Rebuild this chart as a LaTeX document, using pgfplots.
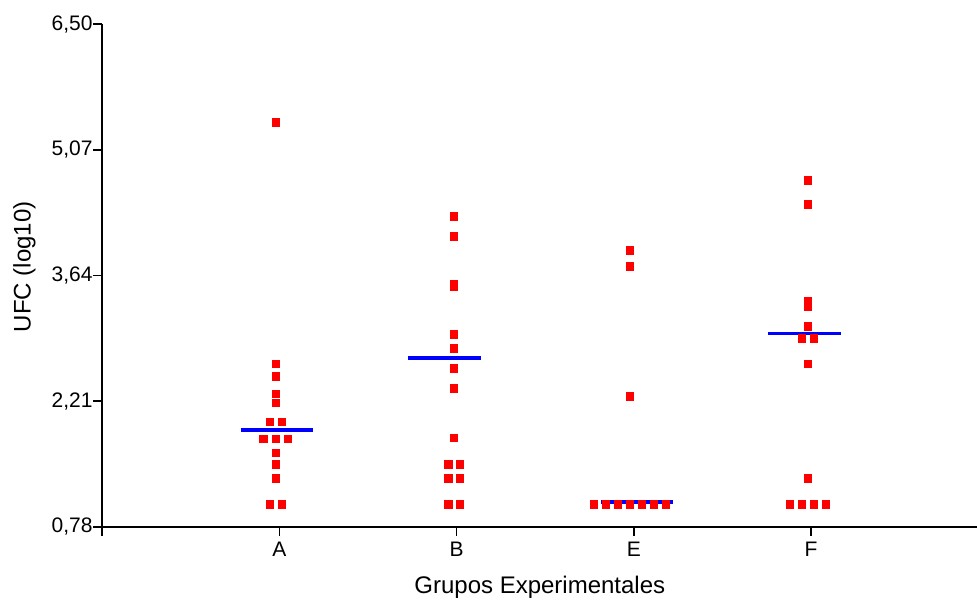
\documentclass[border=0pt]{standalone}
\usepackage{fontspec}
\setmainfont{Liberation Sans}
\usepackage{pgfplots}
\pgfplotsset{compat=1.18}
\begin{document}
\begin{tikzpicture}
\begin{axis}[
  name=ax,
  scale only axis,
  width=875pt, height=502.6pt,
  xmin=0, xmax=4.938,
  ymin=0.78, ymax=6.50,
  axis x line*=bottom, axis y line*=left,
  axis line style={line width=1.6pt, black},
  tick align=outside,
  major tick length=9pt,
  tick style={line width=1.6pt, black},
  xtick={0,1,2,3,4}, xticklabels={,A,B,E,F},
  ytick={0.78,2.21,3.64,5.07,6.50},
  yticklabel={\pgfmathprintnumber[fixed,fixed zerofill,precision=2,use comma,assume math mode=true]{\tick}},
  every tick label/.append style={font=\fontsize{21}{25}\selectfont},
  yticklabel style={inner sep=0.5pt},
  xticklabel style={inner sep=2pt, yshift=-4pt},
  every axis y label/.style={at={(axis description cs:-0.089,0.517)}, anchor=center, rotate=90, inner sep=0pt},
  every axis x label/.style={at={(axis description cs:0.5,-0.121)}, anchor=center, inner sep=0pt},
  label style={font=\fontsize{24}{28}\selectfont},
  xlabel={Grupos Experimentales},
  ylabel={UFC (log10)},
]
\addplot[only marks, mark=square*, mark size=3.8pt, mark options={fill=red, draw=red, line width=0pt}] table {
x y
0.980 5.38
0.980 2.63
0.980 2.49
0.980 2.29
0.980 2.19
0.946 1.97
1.014 1.97
0.911 1.78
0.980 1.78
1.048 1.78
0.980 1.62
0.980 1.49
0.980 1.33
0.946 1.035
1.014 1.035
1.985 4.31
1.985 4.08
1.985 3.54
1.985 3.51
1.985 2.97
1.985 2.81
1.985 2.58
1.985 2.35
1.985 1.79
1.953 1.49
2.019 1.49
1.953 1.33
2.019 1.33
1.953 1.03
2.019 1.03
2.978 3.92
2.978 3.74
2.978 2.26
2.775 1.035
2.842 1.035
2.910 1.035
2.978 1.035
3.046 1.035
3.113 1.035
3.181 1.035
3.983 4.72
3.983 4.45
3.983 3.34
3.983 3.28
3.983 3.06
3.949 2.92
4.016 2.92
3.983 2.63
3.983 1.33
3.881 1.035
3.949 1.035
4.016 1.035
4.084 1.035
};
\addplot[blue, line width=3.6pt] coordinates {(0.781,1.88) (1.187,1.88)};
\addplot[blue, line width=3.6pt] coordinates {(1.727,2.70) (2.135,2.70)};
\addplot[blue, line width=3.6pt] coordinates {(2.813,1.06) (3.219,1.06)};
\addplot[blue, line width=3.6pt] coordinates {(3.758,2.98) (4.167,2.98)};
\end{axis}
\pgfresetboundingbox
\path[use as bounding box] (ax.south west) ++(-102.3pt,-73.3pt) rectangle ++(977pt,600pt);
\end{tikzpicture}
\end{document}
